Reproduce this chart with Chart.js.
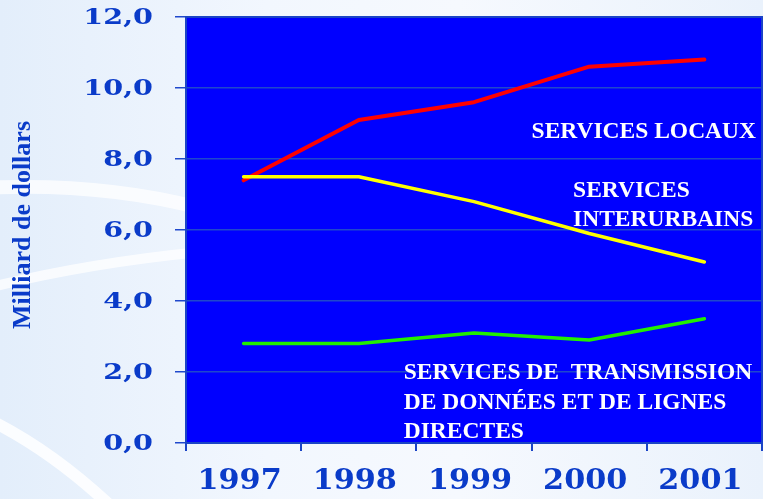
<!DOCTYPE html>
<html>
<head>
<meta charset="utf-8">
<script src="https://cdn.jsdelivr.net/npm/chart.js@4/dist/chart.umd.min.js"></script>
<style>
  html, body { margin: 0; padding: 0; }
  body {
    width: 763px; height: 499px; overflow: hidden;
    background: linear-gradient(90deg, #e3eefb 0%, #f2f7fe 35%, #f6f9fe 60%, #eaf2fc 100%);
  }
  #wrap { position: relative; width: 763px; height: 499px; }
</style>
</head>
<body>
<div id="wrap"><canvas id="chart" width="763" height="499"></canvas></div>
<script>
const years = ['1997', '1998', '1999', '2000', '2001'];
const locaux = [7.4, 9.1, 9.6, 10.6, 10.8];
const interurbains = [7.5, 7.5, 6.8, 5.9, 5.1];
const transmission = [2.8, 2.8, 3.1, 2.9, 3.5];
const yTicks = [0, 2, 4, 6, 8, 10, 12];
const yTitle = 'Milliard de dollars';

// labels written inside the plot, anchored in data units (x = category index)
const notes = [
  { lines: ['SERVICES LOCAUX'], x: 2.5, y: 8.59 },
  { lines: ['SERVICES', 'INTERURBAINS'], x: 2.86, y: 6.93 },
  { lines: ['SERVICES DE  TRANSMISSION', 'DE DONNÉES ET DE LIGNES', 'DIRECTES'], x: 1.39, y: 1.80 }
];

const blueText = '#0a3bc9';

// the slide font is wider than anything installed, so stretch it a bit
function wideText(ctx, text, x, y, sx) {
  ctx.save();
  ctx.translate(x, y);
  ctx.scale(sx, 1);
  ctx.fillText(text, 0, 0);
  ctx.restore();
}

const paintPlugin = {
  id: 'paint',
  beforeDraw(chart) {
    const { ctx, chartArea: a } = chart;
    ctx.save();
    // soft white swooshes of the slide background
    ctx.strokeStyle = 'rgba(255,255,255,0.75)';
    ctx.lineCap = 'round';
    ctx.lineWidth = 14;
    ctx.beginPath();
    ctx.moveTo(-20, 188);
    ctx.quadraticCurveTo(100, 182, 200, 208);
    ctx.stroke();
    ctx.lineWidth = 10;
    ctx.beginPath();
    ctx.moveTo(-20, 290);
    ctx.quadraticCurveTo(80, 264, 200, 252);
    ctx.stroke();
    ctx.strokeStyle = 'rgba(255,255,255,0.85)';
    ctx.lineWidth = 12;
    ctx.beginPath();
    ctx.moveTo(-10, 420);
    ctx.quadraticCurveTo(60, 455, 125, 520);
    ctx.stroke();
    ctx.fillStyle = '#0000ff';
    ctx.fillRect(a.left, a.top, a.right - a.left, a.bottom - a.top);
    ctx.restore();
  },
  afterDraw(chart) {
    const { ctx, chartArea: a } = chart;
    const xs = chart.scales.x, ys = chart.scales.y;
    ctx.save();
    ctx.strokeStyle = '#1a44c6';
    ctx.lineWidth = 2;
    ctx.strokeRect(a.left, a.top, a.right - a.left, a.bottom - a.top);

    // y tick labels
    ctx.fillStyle = blueText;
    ctx.font = 'bold 22px "DejaVu Serif"';
    ctx.textAlign = 'right';
    ctx.textBaseline = 'middle';
    yTicks.forEach(v => {
      wideText(ctx, v.toFixed(1).replace('.', ','), 153, ys.getPixelForValue(v) + 1, 1.3);
    });

    // x tick labels
    ctx.font = 'bold 28px "DejaVu Serif"';
    ctx.textAlign = 'center';
    years.forEach((y, i) => {
      wideText(ctx, y, xs.getPixelForValue(i) - 4, 482, 1.08);
    });

    // y axis title
    ctx.save();
    ctx.translate(23, (a.top + a.bottom) / 2 - 5);
    ctx.rotate(-Math.PI / 2);
    ctx.font = 'bold 26px "Liberation Serif"';
    ctx.fillText(yTitle, 0, 0);
    ctx.restore();

    // notes
    ctx.fillStyle = '#ffffff';
    ctx.font = 'bold 23.5px "Liberation Serif"';
    ctx.textAlign = 'left';
    ctx.textBaseline = 'alphabetic';
    notes.forEach(n => {
      const px = xs.getPixelForValue(n.x);
      const py = ys.getPixelForValue(n.y);
      n.lines.forEach((t, k) => ctx.fillText(t, px, py + k * 29.5));
    });
    ctx.restore();
  }
};

new Chart(document.getElementById('chart'), {
  type: 'line',
  data: {
    labels: years,
    datasets: [
      { label: 'Services locaux', data: locaux, borderColor: '#ff0000', borderWidth: 4, order: 2 },
      { label: 'Services interurbains', data: interurbains, borderColor: '#ffff00', borderWidth: 3.5, order: 1 },
      { label: 'Transmission de données', data: transmission, borderColor: '#22ee00', borderWidth: 3.5, order: 3 }
    ]
  },
  options: {
    responsive: false,
    animation: false,
    events: [],
    layout: { padding: { top: 17, right: 1, left: 0, bottom: 0 } },
    elements: { point: { radius: 0 }, line: { tension: 0, borderCapStyle: 'round', borderJoinStyle: 'round' } },
    plugins: { legend: { display: false }, tooltip: { enabled: false } },
    scales: {
      x: {
        type: 'category',
        offset: true,
        border: { display: false },
        grid: { offset: true, drawOnChartArea: false, drawTicks: true, tickLength: 8, color: '#1a44c6', lineWidth: 2 },
        ticks: { color: 'rgba(0,0,0,0)' },
        afterFit(s) { s.height = 56; }
      },
      y: {
        min: 0,
        max: 12,
        border: { display: false },
        grid: { color: '#1f48cc', lineWidth: 1.5, drawTicks: true, tickLength: 11 },
        ticks: { stepSize: 2, color: 'rgba(0,0,0,0)' },
        afterFit(s) { s.width = 186; }
      }
    }
  },
  plugins: [paintPlugin]
});
</script>
</body>
</html>
